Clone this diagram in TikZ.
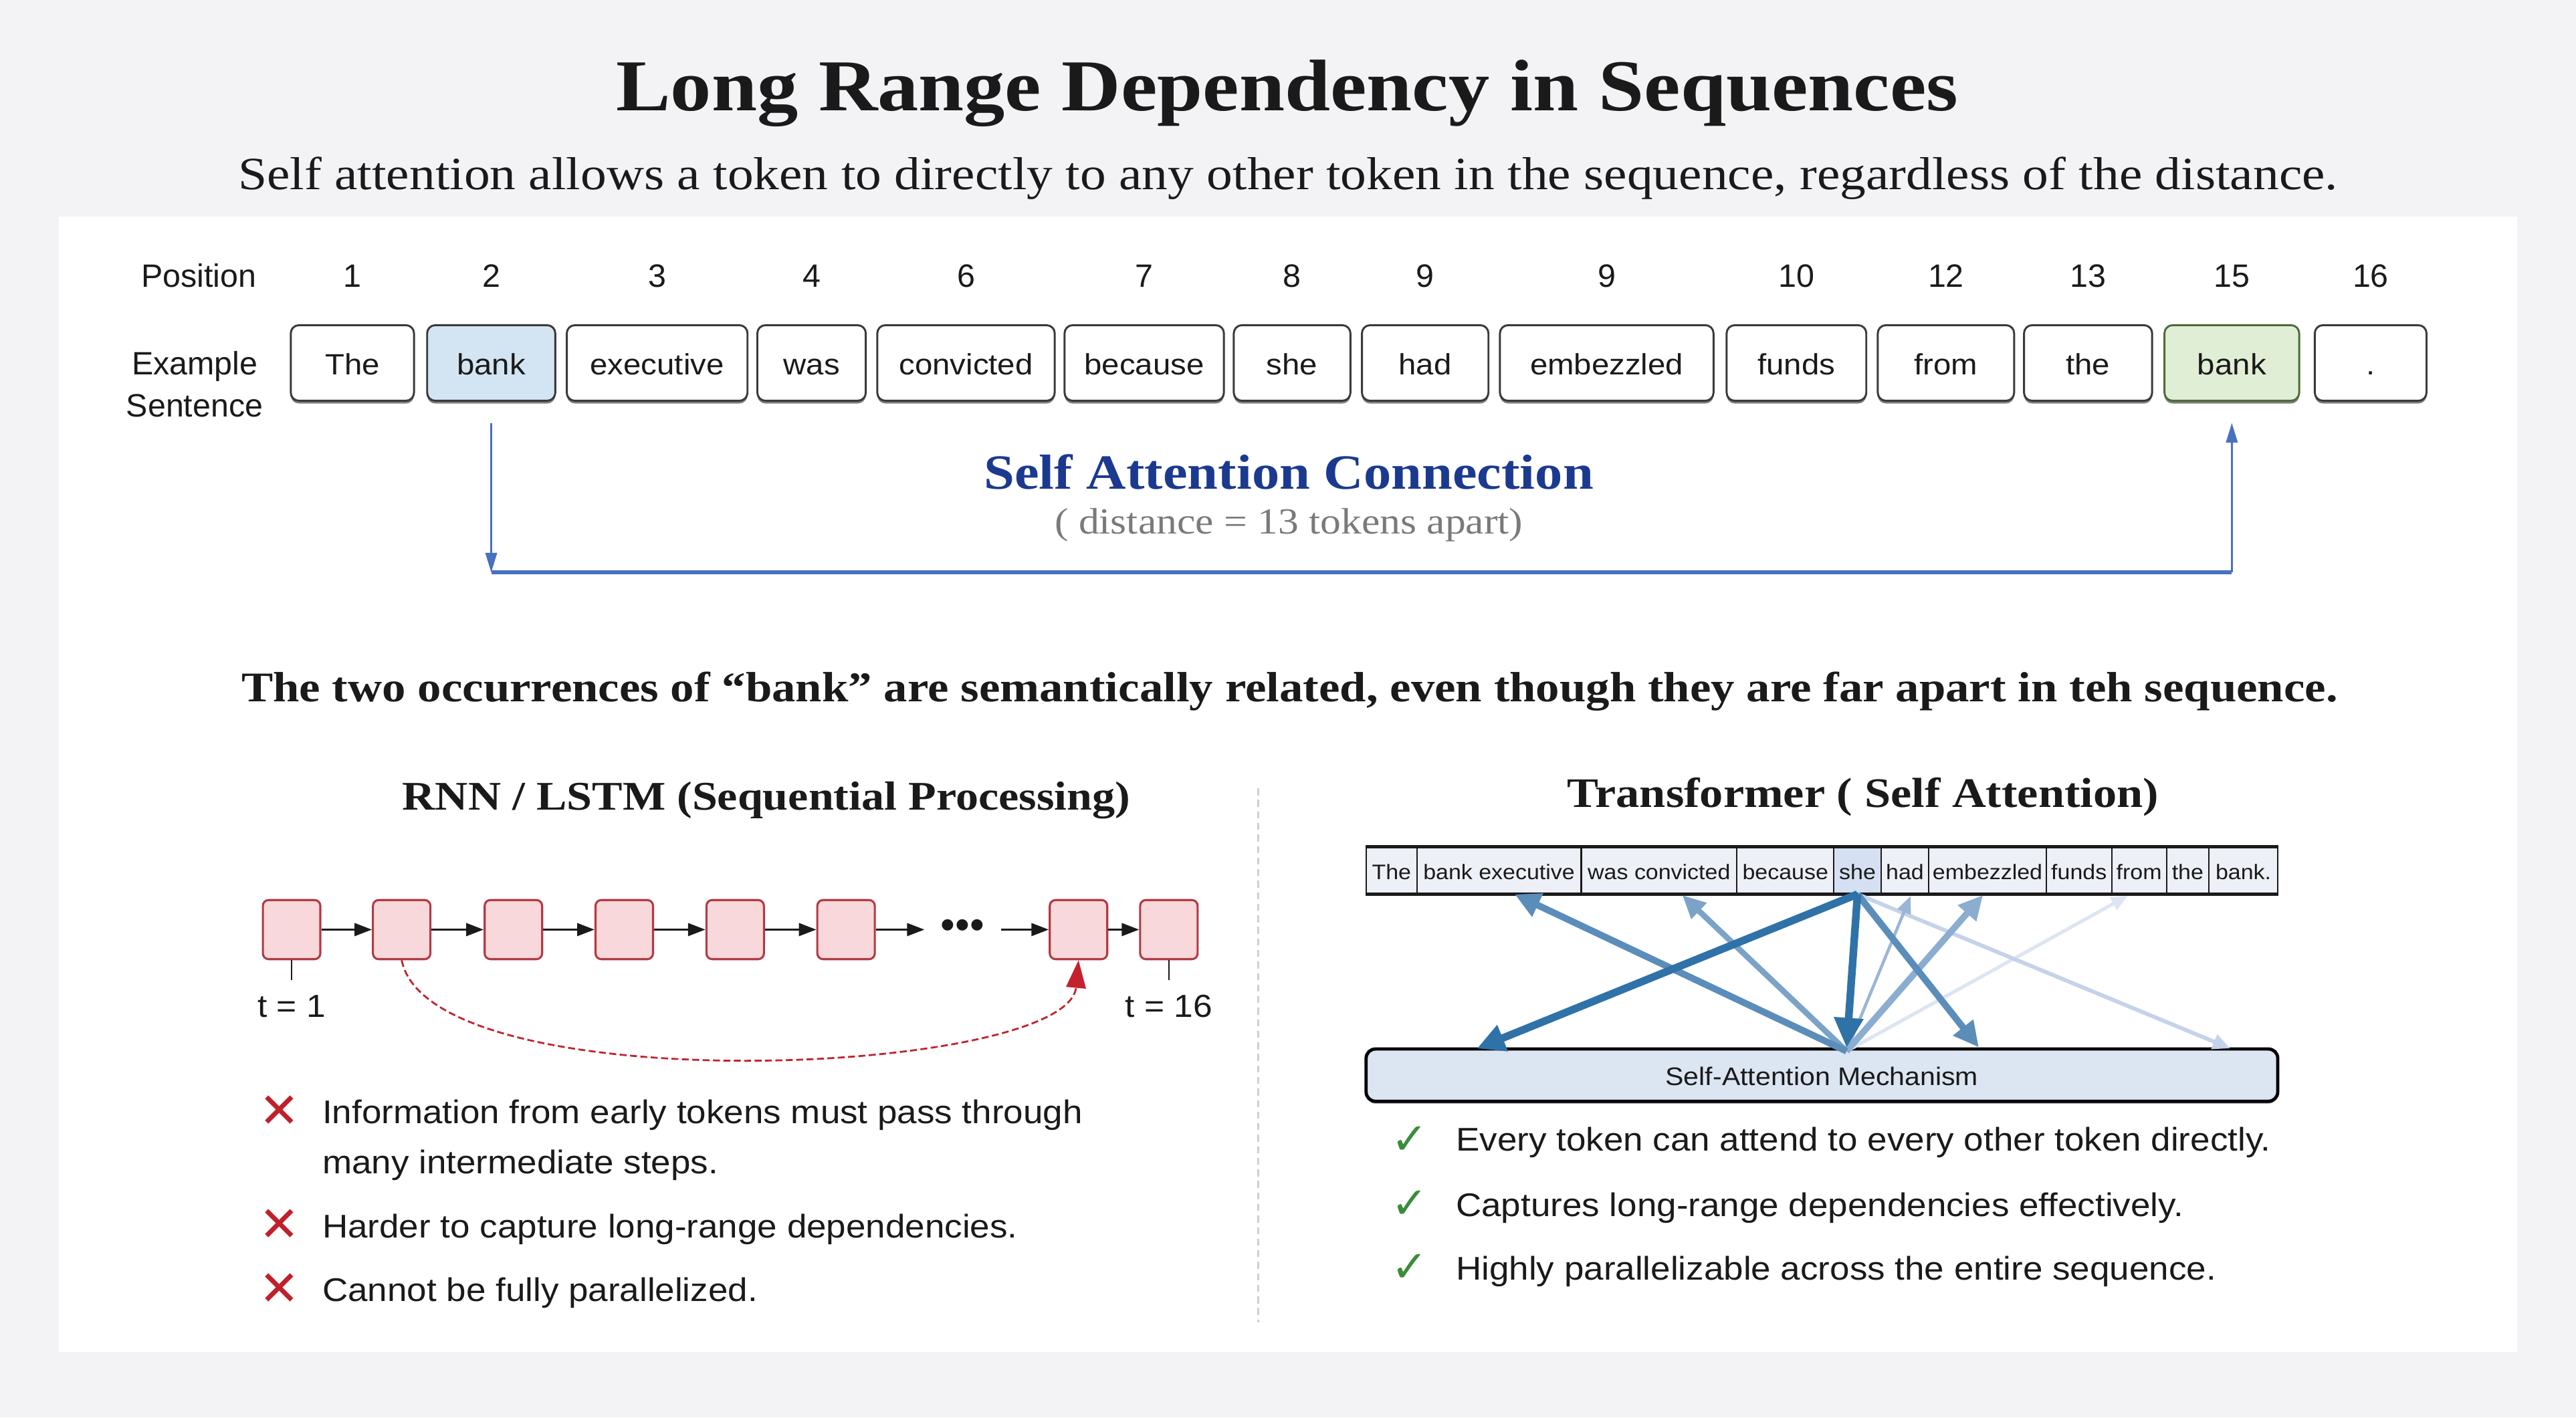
\documentclass[tikz,border=0pt]{standalone}
\usepackage{fontspec}
\setmainfont{Liberation Serif}
\newfontfamily\hfont[FakeStretch=1.12]{Liberation Serif}
\newfontfamily\sansf{Liberation Sans}
\newfontfamily\sansw[FakeStretch=1.08]{Liberation Sans}
\newfontfamily\symf{DejaVu Sans}
\usetikzlibrary{arrows.meta,calc,shadows}
\newlength\pxu
\setlength\pxu{0.025cm}
\newcommand\fitw[2]{\resizebox{#1\pxu}{!}{#2}}
\definecolor{pagebg}{HTML}{F3F2F5}
\definecolor{tokdraw}{HTML}{3A3A3A}
\definecolor{bankblue}{HTML}{D3E5F3}
\definecolor{bankgreen}{HTML}{E1EED6}
\definecolor{greendraw}{HTML}{4E6B3C}
\definecolor{connblue}{HTML}{4A70C0}
\definecolor{headblue}{HTML}{1B3A8F}
\definecolor{distgray}{HTML}{7A7A7A}
\definecolor{rnnfill}{HTML}{F9D8DB}
\definecolor{rnndraw}{HTML}{B23A44}
\definecolor{curvered}{HTML}{C4212D}
\definecolor{crossred}{HTML}{C0202A}
\definecolor{checkgreen}{HTML}{3B8C3B}
\definecolor{rowfill}{HTML}{EEF0F8}
\definecolor{shefill}{HTML}{D5E1F3}
\definecolor{samfill}{HTML}{DCE5F2}
\definecolor{attA}{HTML}{2F72A8}
\definecolor{attB}{HTML}{5B8DBA}
\definecolor{attC}{HTML}{7BA3C8}
\definecolor{attD}{HTML}{8AADD0}
\definecolor{attE}{HTML}{9AB5D6}
\definecolor{attF}{HTML}{DDE5F2}
\definecolor{attG}{HTML}{C5D2EA}
\definecolor{divgray}{HTML}{CFCFCF}
\definecolor{ink}{HTML}{1A1A1A}
\begin{document}
\begin{tikzpicture}[x=0.025cm,y=-0.025cm,
  tok/.style={draw=tokdraw,line width=0.85pt,rounded corners=3.5pt,fill=white,
    minimum height=46*\pxu,inner sep=0pt,text=ink,
    font=\sansw\fontsize{12.7}{14}\selectfont,text height=12.5pt,text depth=2.5pt,
    drop shadow={shadow xshift=0pt,shadow yshift=-1.2pt,opacity=0.5,fill=black}},
  lbl/.style={font=\sansf\fontsize{14}{16}\selectfont,text=ink,inner sep=0pt,anchor=base},
  head/.style={inner sep=0pt,anchor=base,text=ink},
  conn/.style={connblue,line width=0.8pt},
  conntip/.style={-{Triangle[length=8.5pt,width=5pt]}},
  cellst/.style={draw=ink,line width=0.6pt,minimum height=28*\pxu,inner sep=0pt,text=ink,
    font=\sansw\fontsize{9.1}{10}\selectfont,text height=9.6pt,text depth=2pt},
  samst/.style={draw=black,line width=1.4pt,rounded corners=4pt,fill=samfill,
    minimum width=554.9*\pxu,minimum height=31.8*\pxu,inner sep=0pt,text=ink,
    font=\sansw\fontsize{11}{12}\selectfont,text height=11pt,text depth=2.2pt},
  att/.style={line cap=butt},
  rnnst/.style={draw=rnndraw,fill=rnnfill,line width=0.9pt,rounded corners=2.5pt,
    minimum width=35*\pxu,minimum height=36*\pxu,inner sep=0pt},
  seqarrow/.style={ink,line width=0.9pt,-{Triangle[length=7.5pt,width=5.5pt]}},
  tickst/.style={ink,line width=0.7pt},
  tlbl/.style={font=\sansw\fontsize{13.8}{16}\selectfont,text=ink,inner sep=0pt,anchor=base},
  curvest/.style={curvered,line width=0.8pt,dash pattern=on 3pt off 1.5pt,
    -{Triangle[length=12pt,width=8.5pt]}},
  bul/.style={font=\sansw\fontsize{14.2}{16}\selectfont,text=ink,inner sep=0pt,anchor=base west},
  crossst/.style={font=\symf\fontsize{21}{21}\selectfont,text=crossred,inner sep=0pt},
  checkst/.style={font=\symf\bfseries\fontsize{19}{19}\selectfont,text=checkgreen,inner sep=0pt},
  divst/.style={divgray,line width=0.8pt,dash pattern=on 3pt off 2pt}
]
% page and panel
\fill[pagebg] (0,0) rectangle (1568,863);
\fill[white] (36,132) rectangle (1532,823);

% title and subtitle
\node[head] (title) at (783.5,67.2) {\fitw{817}{\hfont\bfseries Long Range Dependency in Sequences}};
\node[head] (subtitle) at (784,115.3) {\fitw{1278}{\hfont Self attention allows a token to directly to any other token in the sequence, regardless of the distance.}};

% row labels
\node[lbl] (poslbl) at (121,175) {Position};
\node[lbl] (exlbl1) at (118.5,228) {Example};
\node[lbl] (exlbl2) at (118.5,253.7) {Sentence};

% tokens and positions
\foreach \cx/\bw/\word/\idx/\pos/\fc/\dc in {
 214.5/75/The/1/1/white/tokdraw,
 299/78/bank/2/2/bankblue/tokdraw,
 400/110/executive/3/3/white/tokdraw,
 494/66/was/4/4/white/tokdraw,
 588/108/convicted/5/6/white/tokdraw,
 696.5/97/because/6/7/white/tokdraw,
 786.5/71/she/7/8/white/tokdraw,
 867.5/77/had/8/9/white/tokdraw,
 978/130/embezzled/9/9/white/tokdraw,
 1093.5/85/funds/10/10/white/tokdraw,
 1184.5/83/from/11/12/white/tokdraw,
 1271/78/the/12/13/white/tokdraw,
 1358.5/82/bank/13/15/bankgreen/greendraw,
 1443/68/./14/16/white/tokdraw}
{
 \node[tok,minimum width=\bw*\pxu,fill=\fc,draw=\dc] (tok\idx) at (\cx,221) {\word};
 \node[lbl] (num\idx) at (\cx,175) {\pos};
}

% self attention connection
\coordinate (cornL) at (299,348.5);
\coordinate (cornR) at (1358.5,348.5);
\draw[conn,conntip] ([yshift=-9.2pt]tok2.south) -- (cornL);
\draw[connblue,line width=1.6pt] (cornL) -- (cornR);
\draw[conn,conntip] (cornR) -- ([yshift=-9.2pt]tok13.south);
\node[head,text=headblue] (sacl) at (784.5,297.8) {\fitw{371}{\hfont\bfseries Self Attention Connection}};
\node[head,text=distgray] (dist) at (784.5,325) {\fitw{285}{\hfont ( distance = 13 tokens apart)}};

% statement
\node[head] (stmt) at (785,427) {\fitw{1276}{\hfont\bfseries The two occurrences of “bank” are semantically related, even though they are far apart in teh sequence.}};

% divider
\draw[divst] (766,480) -- (766,805);

% section headings
\node[head] (rnnhead) at (466.5,493.2) {\fitw{443}{\hfont\bfseries RNN / LSTM (Sequential Processing)}};
\node[head] (trhead) at (1134,491.5) {\fitw{360}{\hfont\bfseries Transformer ( Self Attention)}};

% RNN chain
\foreach \cx/\idx in {177.5/1,244.5/2,312.5/3,380/4,447.5/5,515/6,656.5/7,711.5/8}
  \node[rnnst] (r\idx) at (\cx,566) {};
\foreach \a/\b in {1/2,2/3,3/4,4/5,5/6,7/8}
  \draw[seqarrow] (r\a) -- (r\b);
\node[inner sep=0pt,minimum width=46*\pxu,text=ink,font=\sansf\fontsize{18}{18}\selectfont] (dots) at (586,566) {•••};
\draw[seqarrow] (r6.east) -- (r6.east -| dots.west);
\draw[seqarrow] (r7.west -| dots.east) -- (r7.west);
\draw[tickst] (r1.south) -- ++(0,12);
\draw[tickst] (r8.south) -- ++(0,12);
\node[tlbl] (tl1) at (177.5,619.4) {t = 1};
\node[tlbl] (tl16) at (711.5,619.4) {t = 16};
\draw[curvest] (r2.south) .. controls (262,672) and (650,655) .. (r7.south);

% RNN bullets
\node[crossst] (x1) at (170,676.8) {✕};
\node[bul] (b1) at (196,684) {Information from early tokens must pass through};
\node[bul] (b1b) at (196,714.4) {many intermediate steps.};
\node[crossst] (x2) at (170,746.2) {✕};
\node[bul] (b2) at (196,753.7) {Harder to capture long-range dependencies.};
\node[crossst] (x3) at (170,785) {✕};
\node[bul] (b3) at (196,792.4) {Cannot be fully parallelized.};

% Transformer token row
\foreach \cx/\bw/\word/\idx/\fc in {
 847/30.8/The/1/rowfill,
 912.45/100.1/bank executive/2/rowfill,
 1009.85/94.7/was convicted/3/rowfill,
 1086.75/59.1/because/4/rowfill,
 1130.65/28.7/she/5/shefill,
 1159.5/29/had/6/rowfill,
 1209.8/71.6/embezzled/7/rowfill,
 1265.45/39.7/funds/8/rowfill,
 1302.05/33.5/from/9/rowfill,
 1331.65/25.7/the/10/rowfill,
 1365.5/42/bank./11/rowfill}
  \node[cellst,minimum width=\bw*\pxu,fill=\fc] (cell\idx) at (\cx,530) {\word};
\draw[ink,line width=1.3pt] (cell1.north west) -- (cell11.north east);
\draw[ink,line width=1.3pt] (cell1.south west) -- (cell11.south east);

% self-attention mechanism box
\node[samst,drop shadow={shadow xshift=0pt,shadow yshift=-1pt,opacity=0.5,fill=black}] (sam) at (1109,654.6) {Self-Attention Mechanism};

% attention arrows
\coordinate (hub) at (1124,640);
\coordinate (endA) at (899,638.4);
\coordinate (endD) at (1124,638);
\coordinate (endE) at (1204.5,637.7);
\coordinate (endI) at (1357.5,638.3);
\coordinate (endB) at (922,544.5);
\coordinate (endC) at (1024,545);
\coordinate (endF) at (1163,545.5);
\coordinate (endG) at (1207,545);
\coordinate (endH) at (1295,545.5);
\draw[att,attF,line width=1.5pt,-{Triangle[length=7pt,width=6pt]}] (hub) -- (endH);
\draw[att,attG,line width=1.7pt,-{Triangle[length=7.5pt,width=6.5pt]}] (cell5.south) -- (endI);
\draw[att,attE,line width=1.3pt,-{Triangle[length=7.5pt,width=6pt]}] (hub) -- (endF);
\draw[att,attC,line width=2.5pt,-{Triangle[length=10pt,width=9pt]}] (hub) -- (endC);
\draw[att,attD,line width=2.8pt,-{Triangle[length=10.5pt,width=10pt]}] (hub) -- (endG);
\draw[att,attB,line width=2.9pt,-{Triangle[length=11pt,width=10.5pt]}] (hub) -- (endB);
\draw[att,attB,line width=2.9pt,-{Triangle[length=11pt,width=10.5pt]}] (cell5.south) -- (endE);
\draw[att,attA,line width=3.3pt,-{Triangle[length=13pt,width=12pt]}] (cell5.south) -- (endD);
\draw[att,attA,line width=3.3pt,-{Triangle[length=12pt,width=11.5pt]}] (cell5.south) -- (endA);

% Transformer bullets
\node[checkst] (k1) at (858,694.3) {✓};
\node[bul] (c1) at (886,700.8) {Every token can attend to every other token directly.};
\node[checkst] (k2) at (858,733.5) {✓};
\node[bul] (c2) at (886,740.8) {Captures long-range dependencies effectively.};
\node[checkst] (k3) at (858,772) {✓};
\node[bul] (c3) at (886,779.5) {Highly parallelizable across the entire sequence.};
\end{tikzpicture}
\end{document}
